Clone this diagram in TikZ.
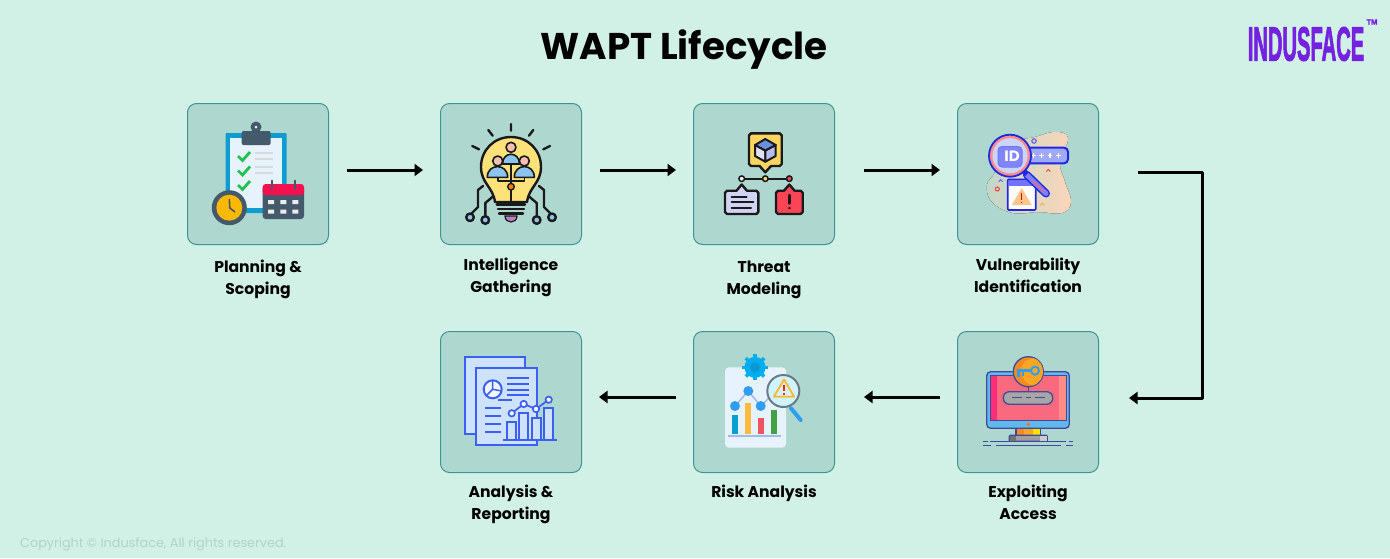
\documentclass[tikz,border=0pt]{standalone}
\usepackage{fontspec}
\setmainfont{Poppins}
\newfontfamily\logofont{Liberation Sans}[BoldFeatures={FakeBold=2.5}]
\usetikzlibrary{positioning,arrows.meta}

\definecolor{pagebg}{HTML}{D1F1E6}
\definecolor{boxfill}{HTML}{AED8CF}
\definecolor{boxline}{HTML}{3F9590}
\definecolor{copygray}{HTML}{B4D2C7}
\definecolor{logoviolet}{HTML}{7421E0}
\definecolor{slate}{HTML}{44596B}
\definecolor{clipblue}{HTML}{0D9DD0}
\definecolor{paperblue}{HTML}{E7F3FC}
\definecolor{checkgreen}{HTML}{22C04E}
\definecolor{clockyellow}{HTML}{FBB800}
\definecolor{calred}{HTML}{F5104F}
\definecolor{bulbyellow}{HTML}{FDE27A}
\definecolor{personblue}{HTML}{8CC4F0}
\definecolor{personskin}{HTML}{F6C0B0}
\definecolor{callyellow}{HTML}{FBD560}
\definecolor{callred}{HTML}{FB4455}
\definecolor{callblue}{HTML}{D0D4F4}
\definecolor{cubetop}{HTML}{6B8FE0}
\definecolor{cubeleft}{HTML}{E0E0F8}
\definecolor{cuberight}{HTML}{B8BCF0}
\definecolor{ruleblue}{HTML}{3A60F8}
\definecolor{sheetblue}{HTML}{CFE2FB}
\definecolor{deepblue}{HTML}{1E28E0}
\definecolor{softblue}{HTML}{A0A8F8}
\definecolor{peach}{HTML}{FBD6BA}
\definecolor{inkline}{HTML}{3F4A9A}
\definecolor{ink}{HTML}{1A1A1A}
\definecolor{screenred}{HTML}{F96A7E}
\definecolor{screenleft}{HTML}{FB2E78}
\definecolor{screenright}{HTML}{FD8C84}
\definecolor{monitorblue}{HTML}{62B8EA}
\definecolor{keyorange}{HTML}{FAA625}
\definecolor{keydark}{HTML}{F58A1F}
\definecolor{gearblue}{HTML}{00AEEF}
\definecolor{geardark}{HTML}{0B96D6}
\definecolor{baryellow}{HTML}{FBB940}
\definecolor{barred}{HTML}{EF5560}
\definecolor{bargreen}{HTML}{43A047}
\definecolor{barblue}{HTML}{0A9FD0}
\definecolor{dotblue}{HTML}{2F9DF0}
\definecolor{linkblue}{HTML}{A0BCE0}

\tikzset{
  stagebox/.style={draw=boxline,line width=1pt,fill=boxfill,rounded corners=9pt,minimum size=141pt,inner sep=0pt},
  stagelabel/.style={font=\fontsize{15.6}{22}\selectfont\bfseries,align=center,text=black,inner sep=0pt},
  flow/.style={draw=black,line width=3pt,-{Triangle[length=8.5pt,width=12pt]}},
  icon/.style={line width=2.4pt,draw=ink,line join=round,line cap=round},
}

\begin{document}
\begin{tikzpicture}[x=1pt,y=-1pt]
\useasboundingbox (0,0) rectangle (1390,558);
\fill[pagebg] (0,0) rectangle (1390,558);

\node[font=\fontsize{37.2}{44}\selectfont\bfseries] (title) at (684,50) {WAPT Lifecycle};
\node[text=logoviolet,font=\logofont\fontsize{48}{48}\selectfont\bfseries] (logo) at (1306,44) {\scalebox{0.42}[1]{INDUSFACE}};
\node[text=logoviolet,font=\logofont\fontsize{7.5}{8}\selectfont\bfseries,inner sep=0pt] (tm) at (1372,22) {TM};
\node[text=copygray,font=\fontsize{12.8}{15}\selectfont,anchor=west,inner sep=0pt] (copy) at (20,544.5) {Copyright © Indusface, All rights reserved.};

% stages
\node[stagebox] (plan) at (258,174) {};
\node[stagebox] (intel) at (511,174) {};
\node[stagebox] (threat) at (764,174) {};
\node[stagebox] (vuln) at (1028,174) {};
\node[stagebox] (exploit) at (1028,402) {};
\node[stagebox] (risk) at (764,402) {};
\node[stagebox] (report) at (511,402) {};

\node[stagelabel,below=14.5pt of plan] (planlabel) {Planning \&\\Scoping};
\node[stagelabel,below=12.5pt of intel] (intellabel) {Intelligence\\Gathering};
\node[stagelabel,below=15.5pt of threat] (threatlabel) {Threat\\Modeling};
\node[stagelabel,below=12.5pt of vuln] (vulnlabel) {Vulnerability\\Identification};
\node[stagelabel,below=11.5pt of exploit] (exploitlabel) {Exploiting\\Access};
\node[stagelabel,below=11.5pt of risk] (risklabel) {Risk Analysis};
\node[stagelabel,below=11.5pt of report] (reportlabel) {Analysis \&\\Reporting};

% connectors
\coordinate (elbow) at (1202,285);
\draw[flow,shorten <=18pt,shorten >=17pt] ([yshift=4pt]plan.east) -- ([yshift=4pt]intel.west);
\draw[flow,shorten <=18pt,shorten >=17pt] ([yshift=4pt]intel.east) -- ([yshift=4pt]threat.west);
\draw[flow,shorten <=29pt,shorten >=17pt] ([yshift=4pt]threat.east) -- ([yshift=4pt]vuln.west);
\draw[flow,line join=round,shorten <=39pt,shorten >=30pt] ([yshift=2pt]vuln.east) -| (elbow) |- ([yshift=4pt]exploit.east);
\draw[flow,shorten <=17pt,shorten >=29pt] ([yshift=5pt]exploit.west) -- ([yshift=5pt]risk.east);
\draw[flow,shorten <=17pt,shorten >=17pt] ([yshift=5pt]risk.west) -- ([yshift=5pt]report.east);

% clipboard and calendar
\fill[clipblue,rounded corners=1pt] (225.7,133) rectangle (286.7,213);
\fill[paperblue] (230,138) rectangle (282,208);
\fill[slate] (256,127) circle[radius=5.5];
\fill[slate,rounded corners=2pt] (241.7,131) rectangle (270.7,145);
\fill[paperblue] (256,127) circle[radius=1.5];
\draw[checkgreen,line width=2.8pt] (238,156) -- (242.5,160.5) -- (250,152);
\draw[checkgreen,line width=2.8pt] (238,170.5) -- (242.5,175) -- (250,166.5);
\draw[checkgreen,line width=2.8pt] (238,185) -- (242.5,189.5) -- (250,181);
\draw[gray!30,line width=1.8pt] (255,153) -- (273,153) (255,159) -- (273,159) (255,167) -- (273,167) (255,173) -- (273,173);
\fill[slate] (229.3,207.7) circle[radius=17.5];
\fill[clockyellow] (229.3,207.7) circle[radius=13];
\draw[slate,line width=1.6pt] (229.3,199) -- (229.8,208) -- (235,212);
\fill[slate,rounded corners=3pt] (262.7,186) rectangle (304,219);
\fill[calred,rounded corners=3pt] (262.7,184) rectangle (304,195);
\fill[calred] (262.7,190) rectangle (304,194);
\draw[slate,line width=1.8pt,line cap=round] (271.7,180.5) -- (271.7,189) (295,180.5) -- (295,189);
\fill[gray!15] (268,200) rectangle +(6,4) (280.3,200) rectangle +(6,4) (292.3,200) rectangle +(6,4) (268,209.5) rectangle +(6,4) (280.3,209.5) rectangle +(6,4) (292.3,209.5) rectangle +(6,4);

% bulb
\draw[icon] (511,124) -- (511,130.7) (488.3,130) -- (492.7,135.7) (533.3,130) -- (529,135.7) (472.3,146) -- (479,149.3) (550,146) -- (543.3,149.3);
\draw[icon] (483,186) -- (478,190) -- (478,207) -- (472,213) (497,193) -- (485.3,203) -- (485.3,216) (539,186) -- (544,190) -- (544,207) -- (550,213) (525,193) -- (536.7,203) -- (536.7,216);
\draw[icon,fill=bulbyellow] (495,202) .. controls (493,187) and (481,183) .. (481,167) .. controls (481,150) and (494,137) .. (511,137) .. controls (528,137) and (541,150) .. (541,167) .. controls (541,183) and (529,187) .. (527,202) -- cycle;
\draw[icon,fill=personblue] (470,217.3) circle[radius=3.8] (485.3,220) circle[radius=3.8] (552,217.3) circle[radius=3.8] (536.7,220) circle[radius=3.8];
\draw[icon,line width=1.6pt] (511,164) -- (511,202) (497.7,177) -- (497.7,181) -- (524.3,181) -- (524.3,177);
\draw[icon,line width=1.6pt,fill=personblue] (502.5,164) .. controls (502.5,151) and (519.5,151) .. (519.5,164) -- cycle;
\draw[icon,line width=1.6pt,fill=personblue] (487.3,177.3) .. controls (487.3,163) and (507.7,163) .. (507.7,177.3) -- cycle;
\draw[icon,line width=1.6pt,fill=personblue] (514.3,177.3) .. controls (514.3,163) and (534.3,163) .. (534.3,177.3) -- cycle;
\draw[icon,line width=1.6pt,fill=personskin] (511,147.3) circle[radius=5] (497.7,161) circle[radius=5] (524.3,161) circle[radius=5];
\draw[icon,line width=1.4pt,fill=orange] (511,186.7) circle[radius=3.3];
\draw[icon] (496.7,204.3) -- (525,204.3) (498,209) -- (524,209) (499,213.3) -- (523,213.3);
\draw[ink,line width=1.2pt,fill=violet!50!white] (505,216) .. controls (505,224) and (517,224) .. (517,216) -- cycle;

% threat tree
\draw[icon,fill=callyellow] (751,133.3) -- (779.7,133.3) -- (781.7,135.3) -- (781.7,164) -- (779.7,166) -- (771,166) -- (765.3,172.3) -- (759.6,166) -- (751,166) -- (749,164) -- (749,135.3) -- cycle;
\draw[icon,line width=2pt,fill=cubeleft] (755,145) -- (765.3,150.5) -- (765.3,161.7) -- (755,156) -- cycle;
\draw[icon,line width=2pt,fill=cuberight] (775.7,145) -- (765.3,150.5) -- (765.3,161.7) -- (775.7,156) -- cycle;
\draw[icon,line width=2pt,fill=cubetop] (765.3,139) -- (775.7,145) -- (765.3,150.5) -- (755,145) -- cycle;
\draw[icon] (741.7,178.7) -- (789.3,178.7);
\draw[icon,line width=1.5pt,fill=white] (741.7,178.7) circle[radius=2.8];
\draw[icon,line width=1.5pt,fill=callyellow] (765.3,178.7) circle[radius=2.8];
\draw[icon,line width=1.5pt,fill=callred] (789.3,178.7) circle[radius=2.8];
\draw[icon,fill=callblue] (727,190.7) -- (736.5,190.7) -- (741.7,184.5) -- (746.9,190.7) -- (756.3,190.7) -- (758.3,192.7) -- (758.3,212) -- (756.3,214) -- (727,214) -- (725,212) -- (725,192.7) -- cycle;
\draw[icon,line width=2pt] (731.7,196.7) -- (746.7,196.7) (731.7,202) -- (753.3,202) (731.7,207.7) -- (751,207.7);
\draw[icon,fill=callred] (778,190.7) -- (784,190.7) -- (789.3,184.5) -- (794.6,190.7) -- (800.7,190.7) -- (802.7,192.7) -- (802.7,212) -- (800.7,214) -- (778,214) -- (776,212) -- (776,192.7) -- cycle;
\draw[icon] (789.3,195) -- (789.3,203.5) (789.3,208) -- (789.3,208.1);

% id lens and warning window
\fill[left color=boxfill!75!peach,right color=peach] plot[smooth cycle,tension=.7] coordinates {(1035,137) (1055,132) (1068,138) (1060,162) (1065,182) (1071,202) (1062,213) (1038,212) (1013,213) (992,202) (987,185) (995,172) (1005,145)};
\draw[deepblue!70!white,line width=1.2pt] (1034,141) circle[radius=2.2];
\draw[red!70!white,line width=1.2pt] (997.3,189) circle[radius=2];
\draw[red!70!white,line width=1pt] (1046.3,171.5) -- (1048.3,169.5) -- (1050.3,171.5);
\draw[blue!60!white,line width=1pt] (998.7,181.7) -- (1000.7,179.7) -- (1002.7,181.7);
\draw[orange!70!white,line width=1pt] (1040.3,205.3) -- (1042.3,203.3) -- (1044.3,205.3);
\draw[deepblue,line width=1.6pt,fill=white,rounded corners=1pt] (1007.7,179.3) rectangle (1035.7,210);
\fill[blue!55!white] (1008.5,180) rectangle (1035,185.5);
\fill[orange!45!white] (1021.7,188) -- (1031.7,205) -- (1011.7,205) -- cycle;
\draw[red!85!black,line width=1.2pt] (1021.7,193) -- (1021.7,200) (1021.7,202) -- (1021.7,203);
\draw[deepblue,line width=2pt,fill=softblue,rounded corners=4pt] (1026,147.7) rectangle (1068,163.3);
\draw[white,line width=1.2pt] (1031,155.5) -- (1035.6,155.5) (1033.3,153.2) -- (1033.3,157.8) (1039.4,155.5) -- (1044,155.5) (1041.7,153.2) -- (1041.7,157.8) (1047.7,155.5) -- (1052.3,155.5) (1050,153.2) -- (1050,157.8) (1056,155.5) -- (1060.6,155.5) (1058.3,153.2) -- (1058.3,157.8);
\draw[deepblue,line width=8pt,line cap=round] (1027,175) -- (1046,193.5);
\draw[blue!50!white,line width=5pt,line cap=round] (1027,175) -- (1046,193.5);
\draw[red!60!white,line width=1.2pt] (1033,181) -- (1044,191.5);
\draw[deepblue,line width=5pt] (1021.5,168.5) -- (1027,174);
\draw[deepblue,line width=1.8pt,fill=red!45!white] (1010,155.7) circle[radius=21];
\fill[paperblue!60!softblue] (1010,155.7) circle[radius=17.5];
\draw[blue!55!white,line width=1pt,fill=softblue!80!blue,rounded corners=4pt] (998,146.5) rectangle (1022,167);
\node[text=white,font=\fontsize{15}{15}\selectfont\bfseries,inner sep=0pt] (idtext) at (1012,156.5) {ID};

% monitor and key
\draw[inkline,line width=1.3pt,fill=keydark] (1016,428.3) rectangle (1040.7,435.3);
\fill[keyorange] (1024,429) rectangle (1033,435);
\fill[yellow!85!orange] (1033,429) rectangle (1040,435);
\draw[inkline,line width=1.3pt,fill=gray!75,rounded corners=1pt] (1009.3,435.3) rectangle (1047.3,441.3);
\fill[gray!90!black] (1010,436) rectangle (1016,440.7);
\fill[gray!40] (1040,436) rectangle (1046.7,440.7);
\draw[inkline,line width=1.3pt,fill=monitorblue,rounded corners=4pt] (986.7,371.7) rectangle (1069.3,428.3);
\fill[screenred] (990.7,375) rectangle (1066,420.7);
\fill[screenleft] (990.7,375) rectangle (997.3,420.7);
\fill[screenright] (1059.3,375) rectangle (1066,420.7);
\draw[inkline,line width=1pt] (990.7,375) rectangle (1066,420.7);
\draw[inkline,line width=1pt] (1028.3,386) -- (1028.3,391.7);
\draw[inkline,line width=1.3pt,fill=gray!70,rounded corners=6pt] (1003.3,391.7) rectangle (1052.7,404.3);
\draw[inkline,line width=1.1pt] (1012,397.3) -- (1021.5,397.3) (1026,397.3) -- (1031,397.3) (1035,397.3) -- (1044.5,397.3);
\draw[inkline,line width=1.3pt,fill=keydark] (1028.3,371.7) circle[radius=15];
\fill[keyorange] (1033,358) .. controls (1024,360) and (1021,366) .. (1021,371) .. controls (1021,378) and (1026,384) .. (1033,385.5) .. controls (1040,383) and (1043,377) .. (1043,371.7) .. controls (1043,366) and (1040,360) .. (1033,358) -- cycle;
\draw[dotblue,line width=3.6pt] (1017,370.5) -- (1032,370.5);
\draw[dotblue,line width=2.4pt] (1018.5,371) -- (1018.5,377) (1023,371) -- (1023,376);
\draw[dotblue,line width=2pt,fill=keyorange] (1035,370.7) circle[radius=4];
\fill[orange!90!red] (1028.3,424.3) circle[radius=1.8];
\draw[inkline,line width=1pt] (983.3,441.3) -- (988,441.3) (990,441.3) -- (1066,441.3) (1069.3,441.3) -- (1072.7,441.3) (983.3,445.3) -- (990.7,445.3) (995.7,445.3) -- (1061,445.3) (1065.7,445.3) -- (1072.7,445.3);

% risk chart
\fill[paperblue,rounded corners=4pt] (725,367.3) rectangle (786,447.7);
\foreach \a in {0,45,...,315}
  \draw[gearblue,line width=3.6pt] ([shift={(\a:9)}]755,367.3) -- ([shift={(\a:13)}]755,367.3);
\fill[gearblue] (755,367.3) circle[radius=10.5];
\fill[geardark] (755,367.3) circle[radius=5];
\draw[linkblue,line width=1.5pt] (735,406) -- (748.3,391) -- (760.7,406) -- (775,392);
\fill[dotblue] (735,406) circle[radius=5] (748.3,391) circle[radius=5] (760.7,406) circle[radius=5];
\fill[barblue] (732.3,415) rectangle (738.3,434.3);
\fill[baryellow] (745,403) rectangle (751,434.3);
\fill[barred] (758,418) rectangle (764,434.3);
\fill[bargreen] (770.7,410) rectangle (776.7,434.3);
\draw[linkblue,line width=2pt] (728.3,435.7) -- (781,435.7);
\draw[dotblue,line width=4pt,line cap=round] (791,408.3) -- (800.7,420);
\draw[slate!80!white,line width=2pt,fill=paperblue!90!cyan] (783.3,391) circle[radius=16];
\draw[baryellow,line width=2pt,line join=round] (784,379.5) -- (794,396.5) -- (774,396.5) -- cycle;
\draw[red!70!orange,line width=1.6pt] (784,384.5) -- (784,391) (784,393) -- (784,394.5);

% report sheets
\draw[ruleblue,line width=2pt,fill=sheetblue] (465,357.3) rectangle (525,434);
\draw[ruleblue,line width=2pt,fill=sheetblue] (475.7,368.3) rectangle (536.7,445);
\draw[ruleblue,line width=2pt,fill=white!70!sheetblue] (492.7,389.3) circle[radius=9];
\draw[ruleblue,line width=1.5pt] (492.7,380.3) -- (492.7,389.3) -- (501.5,391) (492.7,389.3) -- (486,396);
\draw[ruleblue,line width=1.7pt] (507.3,378.3) -- (529,378.3) (507.3,384) -- (529,384) (507.3,389.7) -- (529,389.7) (507.3,395.3) -- (529,395.3) (498.3,400) -- (512.3,400);
\draw[ruleblue,line width=1.7pt] (485,407.7) -- (501,407.7) (485,415.7) -- (501,415.7) (485,424) -- (501,424) (485,432.3) -- (501,432.3);
\draw[ruleblue,line width=2pt,fill=sheetblue] (507.3,421.7) rectangle (516,440) (519.3,412.7) rectangle (528.3,440) (531.7,417.7) rectangle (540.7,440) (544,408.3) rectangle (553.3,440);
\draw[ruleblue,line width=1.7pt] (502.7,440) -- (557.3,440);
\draw[ruleblue,line width=1.7pt] (511.7,413.3) -- (523.7,404) -- (536,409) -- (548.7,399.7);
\draw[ruleblue,line width=1.7pt,fill=white] (511.7,413.3) circle[radius=3.2] (523.7,404) circle[radius=3.2] (536,409) circle[radius=3.2] (548.7,399.7) circle[radius=3.2];
\end{tikzpicture}
\end{document}
